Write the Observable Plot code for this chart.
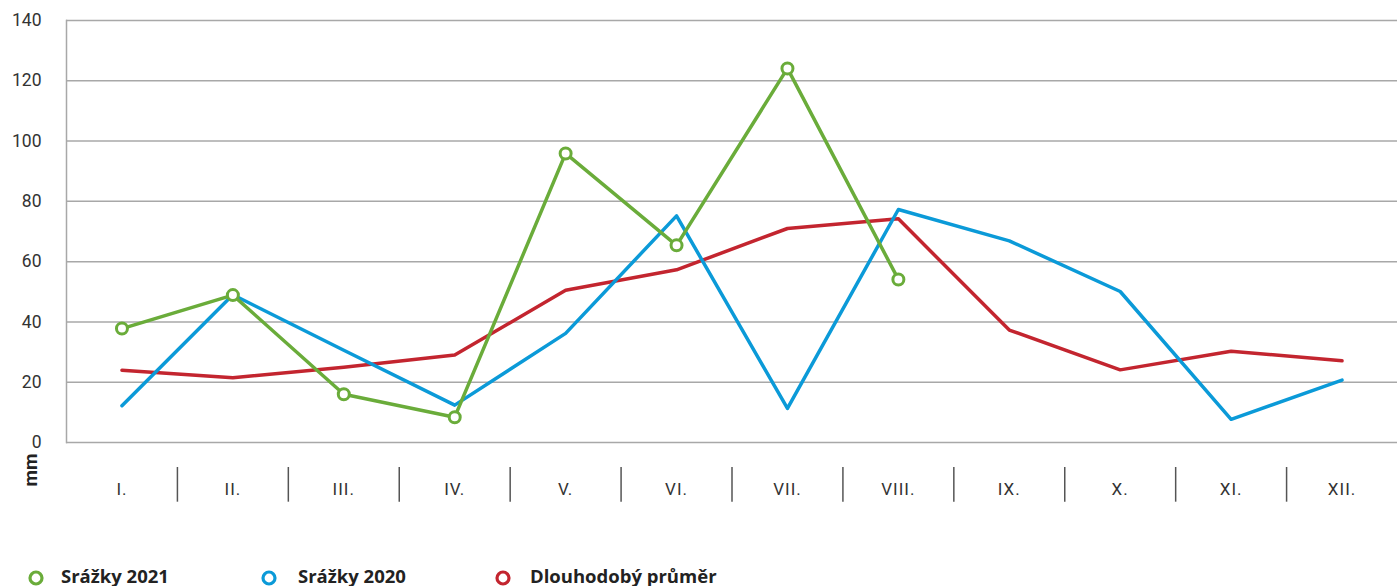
<!DOCTYPE html>
<html>
<head>
<meta charset="utf-8">
<script src="https://cdn.jsdelivr.net/npm/d3@7"></script>
<script src="https://cdn.jsdelivr.net/npm/@observablehq/plot@0.6"></script>
<style>
  html, body { margin: 0; padding: 0; background: #fff; }
  #chart { width: 1397px; }
  .legend { position: relative; height: 41px; font-family: "Open Sans", Roboto, sans-serif; font-weight: 700; font-size: 18.5px; color: #222; }
  .legend svg { position: absolute; top: 24px; }
  .legend span { position: absolute; top: 19px; line-height: 24px; white-space: nowrap; }
  .xlab text { letter-spacing: 0.06em; }
</style>
</head>
<body>
<div id="chart"></div>
<script>
const months = ["I.","II.","III.","IV.","V.","VI.","VII.","VIII.","IX.","X.","XI.","XII."];
const rain2021 = [37.8, 48.9, 16.0, 8.4, 95.9, 65.4, 124.1, 54.1];
const rain2020 = [12.2, 49.0, 30.6, 12.4, 36.2, 75.2, 11.3, 77.3, 66.9, 50.1, 7.7, 20.7];
const longTerm = [24.0, 21.5, 25.0, 29.0, 50.5, 57.3, 71.0, 74.2, 37.3, 24.1, 30.3, 27.1];
const yTicks = [0, 20, 40, 60, 80, 100, 120, 140];
const seriesNames = ["Srážky 2021", "Srážky 2020", "Dlouhodobý průměr"];
const colors = ["#6aac3a", "#0b9ad8", "#c3252f"];

const toRows = (vals) => vals.map((v, i) => ({m: i + 1, v}));
const r21 = toRows(rain2021), r20 = toRows(rain2020), rLT = toRows(longTerm);
const separators = d3.range(1, months.length).map(i => i + 0.5);

const W = 1397, H = 545;
const chart = Plot.plot({
  width: W,
  height: H,
  marginLeft: 66,
  marginRight: 0,
  marginTop: 20,
  marginBottom: H - 442,
  style: {fontFamily: "Roboto, 'Liberation Sans', sans-serif", fontSize: "16px", color: "#3a3a3a", background: "#fff", overflow: "visible"},
  x: {type: "linear", domain: [0.5, months.length + 0.5]},
  y: {domain: [0, 140]},
  marks: [
    Plot.ruleY(yTicks, {stroke: "#a8a8a8", strokeWidth: 1.5}),
    Plot.frame({anchor: "left", stroke: "#a8a8a8", strokeWidth: 1.5}),
    Plot.ruleX(separators, {y1: -8.3, y2: -19.8, stroke: "#555", strokeWidth: 1.5, clip: false}),
    Plot.axisY(yTicks, {tickSize: 0, tickPadding: 25, fontSize: 17.5, fill: "#333", label: null}),
    Plot.axisX(d3.range(1, months.length + 1), {tickSize: 0, tickPadding: 40, tickFormat: d => months[d - 1], fontSize: 17, fill: "#333", label: null, className: "xlab"}),
    Plot.text(["mm"], {frameAnchor: "bottom-left", dx: -30, dy: 44, rotate: -90, fontWeight: 700, fontSize: 19, fill: "#222"}),
    Plot.line(rLT, {x: "m", y: "v", stroke: colors[2], strokeWidth: 3.5}),
    Plot.line(r20, {x: "m", y: "v", stroke: colors[1], strokeWidth: 3.5}),
    Plot.line(r21, {x: "m", y: "v", stroke: colors[0], strokeWidth: 3.5}),
    Plot.dot(r21, {x: "m", y: "v", r: 5.5, fill: "#fff", stroke: colors[0], strokeWidth: 3})
  ]
});
document.getElementById("chart").appendChild(chart);

const legend = document.createElement("div");
legend.className = "legend";
const circleX = [36, 269, 503];
const textX = [61, 298, 530];
seriesNames.forEach((name, i) => {
  const svg = document.createElementNS("http://www.w3.org/2000/svg", "svg");
  svg.setAttribute("width", 18); svg.setAttribute("height", 18);
  svg.style.left = (circleX[i] - 9) + "px";
  svg.innerHTML = `<circle cx="9" cy="9" r="6" fill="#fff" stroke="${colors[i]}" stroke-width="3.2"/>`;
  legend.appendChild(svg);
  const span = document.createElement("span");
  span.style.left = textX[i] + "px";
  span.textContent = name;
  legend.appendChild(span);
});
document.getElementById("chart").appendChild(legend);
</script>
</body>
</html>
